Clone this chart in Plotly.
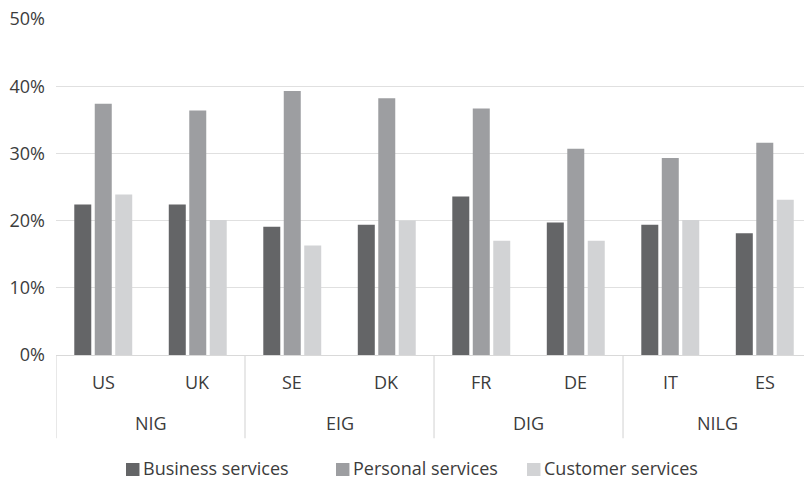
import plotly.graph_objects as go

countries = ["US", "UK", "SE", "DK", "FR", "DE", "IT", "ES"]
groups = ["NIG", "EIG", "DIG", "NILG"]
business = [22.4, 22.4, 19.1, 19.4, 23.6, 19.7, 19.4, 18.1]
personal = [37.4, 36.4, 39.3, 38.2, 36.7, 30.7, 29.3, 31.6]
customer = [23.9, 20.1, 16.3, 20.0, 17.0, 17.0, 20.1, 23.1]
y_ticks = [0, 10, 20, 30, 40, 50]

FONT = "Open Sans"
SIZE = 18
TEXT = "#3c3c3c"
series = [
    ("Business services", business, "#646567"),
    ("Personal services", personal, "#9d9ea1"),
    ("Customer services", customer, "#d2d3d5"),
]
# key swatch left edges (paper units) for the hand-drawn key below the chart
key_x = [0.0936, 0.3743, 0.6297]
SWATCH_W = 0.0180

fig = go.Figure()
for name, vals, col in series:
    fig.add_trace(go.Bar(
        x=list(range(len(countries))), y=vals, name=name,
        marker=dict(color=col, line=dict(width=0)),
        showlegend=False,
    ))

# country labels under the axis, group labels below them
annotations = []
for i, c in enumerate(countries):
    annotations.append(dict(x=i, y=-0.080, xref="x", yref="paper", text=c,
                            showarrow=False, font=dict(family=FONT, size=SIZE, color=TEXT),
                            yanchor="middle"))
for g_i, g in enumerate(groups):
    annotations.append(dict(x=2 * g_i + 0.5, y=-0.2035, xref="x", yref="paper", text=g,
                            showarrow=False, font=dict(family=FONT, size=SIZE, color=TEXT),
                            yanchor="middle"))

# vertical separators between groups
shapes = []
for b in [-0.5, 1.5, 3.5, 5.5]:
    shapes.append(dict(type="line", xref="x", yref="paper", x0=b, x1=b,
                       y0=0, y1=-0.248, line=dict(color="#d9d9d9", width=1.2)))

# series key: colour swatch followed by the series name
for (name, _, col), kx in zip(series, key_x):
    shapes.append(dict(type="rect", xref="paper", yref="paper",
                       x0=kx, x1=kx + SWATCH_W, y0=-0.3601, y1=-0.3214,
                       fillcolor=col, line=dict(width=0)))
    annotations.append(dict(x=kx + SWATCH_W + 0.002, y=-0.3363, xref="paper", yref="paper",
                            text=name, showarrow=False, xanchor="left", yanchor="middle",
                            font=dict(family=FONT, size=SIZE, color=TEXT)))

fig.update_layout(
    width=804, height=480,
    margin=dict(l=56, r=0, t=19, b=125, autoexpand=False),
    paper_bgcolor="white", plot_bgcolor="white",
    barmode="group", bargap=0.35, bargroupgap=0.17,
    font=dict(family=FONT, size=SIZE, color=TEXT),
    showlegend=False,
    annotations=annotations, shapes=shapes,
)
fig.update_xaxes(range=[-0.5, 7.415], showticklabels=False, ticks="",
                 showgrid=False, zeroline=False, showline=True,
                 linecolor="#d9d9d9", linewidth=1.2, fixedrange=True)
fig.update_yaxes(range=[0, 50], tickvals=y_ticks, ticktext=[f"{v}%" for v in y_ticks],
                 showgrid=True, gridcolor="#e0e0e0", gridwidth=1.2,
                 zeroline=False, showline=False, ticks="", ticklabelstandoff=10,
                 tickfont=dict(family=FONT, size=SIZE, color=TEXT), fixedrange=True)

fig.write_html("out.html")
